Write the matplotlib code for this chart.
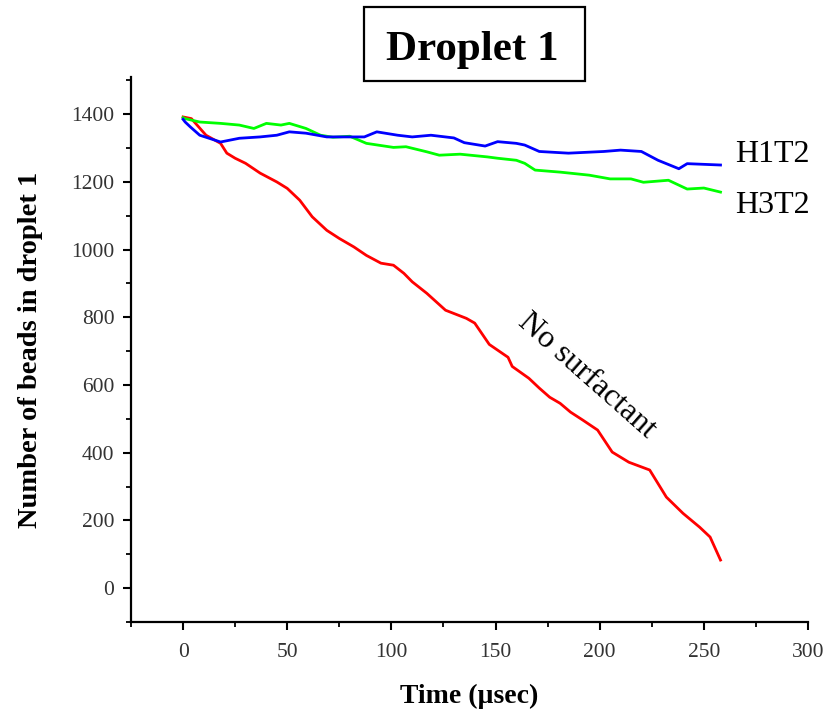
import matplotlib
matplotlib.use("Agg")
import matplotlib.pyplot as plt
from matplotlib.ticker import MultipleLocator
from matplotlib.patches import Rectangle

plt.rcParams['font.family'] = ['Liberation Serif', 'DejaVu Serif']

# Data (time in µsec, number of beads)
red_t = [0, 4, 11, 18, 21, 25, 30, 37, 45, 50, 56, 62, 69, 75, 82, 88, 95, 101, 106, 110, 117,
         126, 136, 140, 147, 156, 158, 166, 171, 176, 181, 186, 192, 199, 206, 214, 224, 227,
         232, 240, 248, 253, 258]
red_n = [1392, 1387, 1338, 1314, 1285, 1270, 1255, 1226, 1200, 1181, 1146, 1097, 1057, 1033,
         1008, 983, 960, 954, 930, 905, 871, 821, 797, 783, 720, 682, 655, 620, 591, 564, 546,
         520, 496, 467, 402, 372, 349, 319, 269, 221, 180, 151, 83]

blue_t = [0, 1, 3.4, 8, 18, 27, 37, 45, 51, 59, 69, 79, 87, 93, 103, 110, 119, 130, 135, 145,
          151, 160, 164, 171, 185, 202, 210, 220, 228, 238, 242, 250, 258]
blue_n = [1385, 1377, 1363, 1338, 1318, 1329, 1333, 1338, 1348, 1344, 1333, 1333, 1333, 1348,
          1338, 1333, 1338, 1330, 1316, 1306, 1319, 1314, 1309, 1290, 1285, 1290, 1294, 1290,
          1264, 1239, 1254, 1252, 1250]

green_t = [0, 1, 8, 18, 27, 34, 40, 47, 51, 59, 66, 72, 80, 88, 101, 107, 117, 123, 133, 146,
           151, 160, 164, 169, 181, 195, 205, 215, 221, 233, 242, 250, 258]
green_n = [1390, 1387, 1377, 1373, 1368, 1358, 1373, 1368, 1373, 1358, 1338, 1332, 1335, 1314,
           1302, 1304, 1289, 1279, 1282, 1274, 1270, 1264, 1255, 1235, 1229, 1220, 1209, 1209,
           1199, 1205, 1179, 1182, 1170]

title = "Droplet 1"
xlabel = "Time (µsec)"
ylabel = "Number of beads in droplet 1"

W, H = 827, 720
fig = plt.figure(figsize=(8.27, 7.2), dpi=100)
ax = fig.add_axes([131/W, 1 - 622/H, (808 - 131)/W, (622 - 77)/H])

ax.plot(red_t, red_n, color='#ff0000', lw=2.0)
ax.plot(green_t, green_n, color='#00ff00', lw=2.0)
ax.plot(blue_t, blue_n, color='#0000ff', lw=2.0)

ax.set_xlim(-25, 300)
ax.set_ylim(-100, 1510)
ax.xaxis.set_minor_locator(MultipleLocator(25))
ax.yaxis.set_minor_locator(MultipleLocator(100))
ax.set_xticks([0, 50, 100, 150, 200, 250, 300])
ax.set_yticks([0, 200, 400, 600, 800, 1000, 1200, 1400])

for s in ['top', 'right']:
    ax.spines[s].set_visible(False)
for s in ['left', 'bottom']:
    ax.spines[s].set_linewidth(1.6)

ax.tick_params(which='major', direction='out', length=6, width=1.5, labelsize=15.5,
               labelcolor='#333333')
ax.tick_params(which='minor', direction='out', length=3.5, width=1.3)
ax.tick_params(axis='y', which='major', pad=6)
ax.tick_params(axis='x', which='major', pad=9)

ax.set_xlabel(xlabel, fontsize=20, fontweight='bold', labelpad=16)
ax.set_ylabel(ylabel, fontsize=20.5, fontweight='bold', labelpad=20)

ax.text(265, 1280, "H1T2", fontsize=23, va='center', ha='left', clip_on=False)
ax.text(265, 1131, "H3T2", fontsize=23, va='center', ha='left', clip_on=False)
ax.text(194, 627, "No surfactant", fontsize=23, rotation=-41.5, rotation_mode='anchor',
        ha='center', va='center')

# Title box
fig.add_artist(Rectangle((364/W, 1 - 81/H), (585 - 364)/W, (81 - 7)/H, transform=fig.transFigure,
                         facecolor='white', edgecolor='black', lw=1.6))
fig.text(472/W, 1 - 60/H, title, fontsize=31, fontweight='bold', ha='center', va='baseline')

fig.savefig("out.png", dpi=100)
